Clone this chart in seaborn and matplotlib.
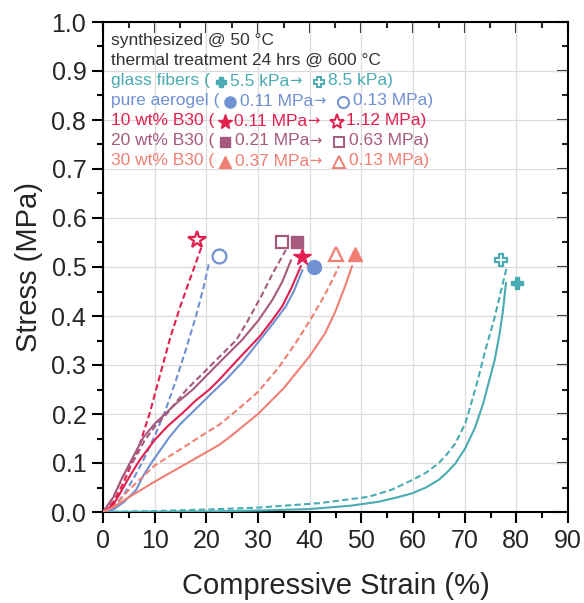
import numpy as np
import pandas as pd
import matplotlib
matplotlib.use('Agg')
import matplotlib.pyplot as plt
import seaborn as sns
from matplotlib.lines import Line2D

# data (strain in %, stress in MPa)
glass_solid_x = [0, 10, 20, 30, 40, 48, 53.4, 57, 59.8, 62.5, 64.9, 66.5, 68.2, 70.1, 72, 73.6, 74.6, 75.8, 76.7, 77.4, 78]
glass_solid_y = [0, 0.0005, 0.001, 0.003, 0.006, 0.013, 0.021, 0.03, 0.038, 0.05, 0.065, 0.08, 0.099, 0.13, 0.172, 0.222, 0.262, 0.31, 0.36, 0.41, 0.468]
glass_dash_x = [0, 10, 20, 30, 41.8, 51.4, 56, 59.8, 62.5, 64.9, 66.5, 68.2, 70.1, 71.5, 72.6, 74, 75.8, 77, 78.2]
glass_dash_y = [0, 0.002, 0.005, 0.009, 0.018, 0.031, 0.046, 0.065, 0.08, 0.099, 0.117, 0.14, 0.18, 0.23, 0.272, 0.33, 0.397, 0.45, 0.502]

aero_solid_x = [0, 2, 4, 6.4, 8, 9.6, 12.8, 15, 18.7, 21.3, 23.8, 27, 30.3, 33, 35.4, 37, 38.6]
aero_solid_y = [0, 0.005, 0.02, 0.045, 0.078, 0.104, 0.152, 0.18, 0.218, 0.245, 0.27, 0.306, 0.35, 0.386, 0.42, 0.452, 0.494]
aero_dash_x = [0, 2, 4, 6, 8, 10, 12, 14, 16, 18, 19.5, 20.6]
aero_dash_y = [0, 0.008, 0.035, 0.07, 0.11, 0.155, 0.205, 0.265, 0.33, 0.4, 0.46, 0.512]

b10_solid_x = [0, 2, 3.3, 5, 7.1, 10, 12.5, 15.5, 18, 20.6, 22.5, 26, 30.3, 32.5, 34.7, 36.5, 38.3]
b10_solid_y = [0, 0.015, 0.038, 0.07, 0.106, 0.147, 0.175, 0.203, 0.228, 0.25, 0.27, 0.31, 0.358, 0.388, 0.42, 0.458, 0.502]
b10_dash_x = [0, 2, 4, 7.1, 9, 11, 13, 14.8, 17, 19]
b10_dash_y = [0, 0.02, 0.06, 0.138, 0.2, 0.278, 0.355, 0.415, 0.48, 0.539]

b20_solid_x = [0, 2, 3.5, 5.2, 7.8, 10, 12, 14.2, 17.4, 20, 23, 26.9, 30, 32.8, 34.7, 36.4]
b20_solid_y = [0, 0.03, 0.065, 0.1, 0.152, 0.18, 0.2, 0.222, 0.25, 0.278, 0.31, 0.351, 0.39, 0.433, 0.47, 0.514]
b20_dash_x = [0, 2, 4, 6.4, 8, 10, 12.3, 16.1, 20, 25.8, 28, 30.6, 33, 35.4]
b20_dash_y = [0, 0.03, 0.075, 0.113, 0.145, 0.174, 0.2, 0.249, 0.29, 0.351, 0.39, 0.44, 0.49, 0.535]

b30_solid_x = [0, 2, 5, 10, 15, 20, 22.5, 25, 30, 35, 40, 43, 45, 47, 48.2]
b30_solid_y = [0, 0.01, 0.03, 0.062, 0.092, 0.122, 0.137, 0.157, 0.2, 0.253, 0.318, 0.365, 0.41, 0.465, 0.502]
b30_dash_x = [0, 2, 5, 10, 15, 20, 22.5, 26.4, 30, 34, 37.3, 40, 42.4, 44, 45.7]
b30_dash_y = [0, 0.01, 0.045, 0.095, 0.128, 0.162, 0.178, 0.212, 0.245, 0.295, 0.345, 0.39, 0.433, 0.465, 0.502]

# end-point markers: (x, y) filled = before, open = after
glass_pts = [(80.2, 0.468), (77.1, 0.514)]
aero_pts = [(40.8, 0.500), (22.4, 0.522)]
b10_pts = [(38.5, 0.520), (18.2, 0.556)]
b20_pts = [(37.6, 0.551), (34.6, 0.551)]
b30_pts = [(48.7, 0.526), (45.1, 0.526)]

c_glass = '#4aabb2'
c_aero = '#7091d2'
c_b10 = '#e2204f'
c_b20 = '#a65a7e'
c_b30 = '#f07f74'

sns.set_theme(style='ticks')
plt.rcParams['font.family'] = ['Liberation Sans', 'DejaVu Sans']

W, H = 584, 603
fig = plt.figure(figsize=(W / 100, H / 100), dpi=100)
ax = fig.add_axes([103 / W, 1 - 512 / H, (568 - 103) / W, (512 - 22) / H])

series = [
    (glass_solid_x, glass_solid_y, glass_dash_x, glass_dash_y, glass_pts, c_glass, 'P', 9),
    (aero_solid_x, aero_solid_y, aero_dash_x, aero_dash_y, aero_pts, c_aero, 'o', 10),
    (b10_solid_x, b10_solid_y, b10_dash_x, b10_dash_y, b10_pts, c_b10, '*', 13),
    (b20_solid_x, b20_solid_y, b20_dash_x, b20_dash_y, b20_pts, c_b20, 's', 9),
    (b30_solid_x, b30_solid_y, b30_dash_x, b30_dash_y, b30_pts, c_b30, '^', 10),
]

for sx, sy, dx, dy, pts, col, mk, ms in series:
    sns.lineplot(x=sx, y=sy, ax=ax, color=col, lw=1.5, sort=False, zorder=3)
    sns.lineplot(x=dx, y=dy, ax=ax, color=col, lw=1.5, sort=False, ls=(0, (3, 1.6)), zorder=3)
    ax.plot([pts[0][0]], [pts[0][1]], marker=mk, ms=ms, color=col, mec=col, ls='none', zorder=4)
    ax.plot([pts[1][0]], [pts[1][1]], marker=mk, ms=ms, mfc='white', mec=col, mew=1.6, ls='none', zorder=4)

ax.set_xlim(0, 90)
ax.set_ylim(0, 1.0)
ax.set_xticks(np.arange(0, 91, 10))
ax.set_yticks(np.arange(0, 1.01, 0.1))
ax.set_yticklabels([f'{v:.1f}' for v in np.arange(0, 1.01, 0.1)])
ax.set_xticks(np.arange(5, 90, 10), minor=True)
ax.set_yticks(np.arange(0.05, 1.0, 0.1), minor=True)
ax.grid(True, which='major', color='#dcdcdc', lw=0.9, zorder=0)
ax.set_axisbelow(True)
for sp in ax.spines.values():
    sp.set_color('black')
    sp.set_linewidth(1.5)
    sp.set_visible(True)
ax.tick_params(which='major', direction='out', length=8, width=1.5, labelsize=18, color='black', pad=4)
ax.tick_params(which='minor', direction='out', length=4.5, width=1.5, color='black')

top = ax.secondary_xaxis('top')
top.set_xticks(np.arange(0, 91, 10))
top.set_xticks(np.arange(5, 90, 10), minor=True)
top.tick_params(which='major', direction='in', length=8, width=1.5, labeltop=False)
top.tick_params(which='minor', direction='in', length=4.5, width=1.5)
right = ax.secondary_yaxis('right')
right.set_yticks(np.arange(0, 1.01, 0.1))
right.set_yticks(np.arange(0.05, 1.0, 0.1), minor=True)
right.tick_params(which='major', direction='in', length=8, width=1.5, labelright=False)
right.tick_params(which='minor', direction='in', length=4.5, width=1.5)

ax.set_xlabel('Compressive Strain (%)', fontsize=21, labelpad=14)
ax.set_ylabel('Stress (MPa)', fontsize=21, labelpad=6)

# annotation block written piece by piece in pixel coordinates
renderer = fig.canvas.get_renderer()
fs = 12.5


def write_line(x0, y0, pieces, col):
    x = x0
    for p in pieces:
        if isinstance(p, str):
            fam = ['DejaVu Sans'] if p == '→' else ['Liberation Sans', 'DejaVu Sans']
            size = fs * 0.85 if p == '→' else fs
            t = fig.text(x / W, 1 - y0 / H, p, fontsize=size, color=col, va='center', ha='left', family=fam)
            x += t.get_window_extent(renderer).width
        else:
            mk, ms, filled, gap_l, gap_r = p
            x += gap_l
            kw = dict(mfc=col) if filled else dict(mfc='white', mew=1.4)
            fig.add_artist(Line2D([x / W], [1 - (y0 + 1) / H], marker=mk, ms=ms, mec=col,
                                  ls='none', transform=fig.transFigure, **kw))
            x += gap_r


x0 = 111
write_line(x0, 40, ['synthesized @ 50 °C'], '#333333')
write_line(x0, 60, ['thermal treatment 24 hrs @ 600 °C'], '#333333')
write_line(x0, 81, ['glass fibers (', ('P', 7, True, 11, 9), '5.5 kPa', '→', ('P', 7, False, 17, 9), '8.5 kPa)'], c_glass)
write_line(x0, 101, ['pure aerogel (', ('o', 8, True, 11, 10), '0.11 MPa', '→', ('o', 8, False, 17, 10), '0.13 MPa)'], c_aero)
write_line(x0, 121, ['10 wt% B30 (', ('*', 11, True, 11, 9), '0.11 MPa', '→', ('*', 11, False, 17, 9), '1.12 MPa)'], c_b10)
write_line(x0, 141, ['20 wt% B30 (', ('s', 7, True, 11, 10), '0.21 MPa', '→', ('s', 7, False, 17, 10), '0.63 MPa)'], c_b20)
write_line(x0, 161, ['30 wt% B30 (', ('^', 8, True, 11, 10), '0.37 MPa', '→', ('^', 8, False, 17, 10), '0.13 MPa)'], c_b30)

fig.savefig('out.png', dpi=100)
